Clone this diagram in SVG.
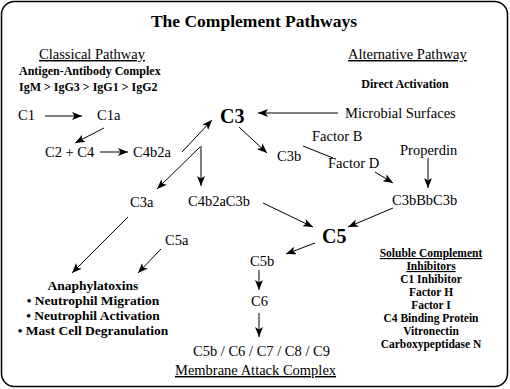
<svg xmlns="http://www.w3.org/2000/svg" width="510" height="389" viewBox="0 0 510 389">
<defs>
<marker id="ah" viewBox="0 0 10 8" refX="10" refY="4" markerWidth="10" markerHeight="8" markerUnits="userSpaceOnUse" orient="auto">
<path d="M0,0 L10,4 L0,8 L2.5,4 Z" fill="#000"/>
</marker>
</defs>
<style>
text{font-family:"Liberation Serif","Times New Roman",serif;fill:#000}
.t{font-size:17.5px;font-weight:bold}
.r{font-size:14.5px}
.b{font-size:12px;font-weight:bold}
.big{font-size:20px;font-weight:bold}
.an{font-size:13.5px;font-weight:bold}
.inh{font-size:11.5px;font-weight:bold}
.u{text-decoration:underline}
.m{text-anchor:middle}
#connectors line{stroke:#000;stroke-width:1;fill:none}
#connectors line.a{marker-end:url(#ah)}
</style>
<rect x="1.5" y="1.5" width="506" height="385" rx="13" ry="13" fill="#fff" stroke="#000" stroke-width="1.5"/>
<g id="title"><text class="t m" x="254" y="27">The Complement Pathways</text></g>
<g id="classical"><text class="r u m" x="92" y="59">Classical Pathway</text>
<text class="b" x="19" y="75">Antigen-Antibody Complex</text>
<text class="b" x="19" y="91">IgM &gt; IgG3 &gt; IgG1 &gt; IgG2</text></g>
<g id="alternative"><text class="r u" x="348" y="59">Alternative Pathway</text>
<text class="b m" x="405" y="88">Direct Activation</text></g>
<g id="c1"><text class="r" x="18" y="120">C1</text></g>
<g id="c1a"><text class="r" x="97" y="120">C1a</text></g>
<g id="c3"><text class="big" x="220" y="123">C3</text></g>
<g id="microbial"><text class="r" x="345" y="118">Microbial Surfaces</text></g>
<g id="c2c4"><text class="r" x="45" y="157">C2 + C4</text></g>
<g id="c4b2a"><text class="r" x="133" y="157">C4b2a</text></g>
<g id="c3b"><text class="r" x="277" y="161">C3b</text></g>
<g id="factorb"><text class="r" x="312" y="141">Factor B</text></g>
<g id="factord"><text class="r" x="328" y="168">Factor D</text></g>
<g id="properdin"><text class="r" x="400" y="155">Properdin</text></g>
<g id="c3bbbc3b"><text class="r" x="392" y="205">C3bBbC3b</text></g>
<g id="c3a"><text class="r" x="130" y="207">C3a</text></g>
<g id="c4b2ac3b"><text class="r" x="188" y="206">C4b2aC3b</text></g>
<g id="c5"><text class="big" x="322" y="243">C5</text></g>
<g id="c5a"><text class="r" x="165" y="245">C5a</text></g>
<g id="c5b"><text class="r" x="250" y="266">C5b</text></g>
<g id="c6"><text class="r" x="251" y="306">C6</text></g>
<g id="mac"><text class="r" x="193" y="356">C5b / C6 / C7 / C8 / C9</text>
<text class="r u" x="175" y="375">Membrane Attack Complex</text></g>
<g id="anaphylatoxins">
<text class="an m" x="93" y="290">Anaphylatoxins</text>
<text class="an m" x="93" y="305">• Neutrophil Migration</text>
<text class="an m" x="93" y="320">• Neutrophil Activation</text>
<text class="an m" x="93" y="335">• Mast Cell Degranulation</text>
</g>
<g id="inhibitors">
<text class="inh u m" x="431" y="257">Soluble Complement</text>
<text class="inh u m" x="431" y="270">Inhibitors</text>
<text class="inh m" x="431" y="283">C1 Inhibitor</text>
<text class="inh m" x="431" y="296">Factor H</text>
<text class="inh m" x="431" y="309">Factor I</text>
<text class="inh m" x="431" y="322">C4 Binding Protein</text>
<text class="inh m" x="431" y="335">Vitronectin</text>
<text class="inh m" x="431" y="348">Carboxypeptidase N</text>
</g>
<g id="connectors">
<line class="a" x1="45" y1="116" x2="82" y2="116"/>
<line class="a" x1="338" y1="113" x2="258" y2="113"/>
<line class="a" x1="104" y1="128" x2="75" y2="143"/>
<line class="a" x1="100" y1="152" x2="128" y2="152"/>
<line class="a" x1="182" y1="152" x2="212" y2="120"/>
<line class="a" x1="239" y1="127" x2="267" y2="153"/>
<line x1="303" y1="146" x2="333" y2="158"/>
<line class="a" x1="375" y1="172" x2="393" y2="183"/>
<line class="a" x1="428" y1="158" x2="428" y2="188"/>
<line class="a" x1="393" y1="208" x2="348" y2="227"/>
<line class="a" x1="263" y1="203" x2="313" y2="227"/>
<line class="a" x1="315" y1="243" x2="286" y2="254"/>
<line class="a" x1="259" y1="270" x2="259" y2="290"/>
<line class="a" x1="259" y1="313" x2="259" y2="337"/>
<line class="a" x1="201" y1="146" x2="201" y2="186"/>
<line class="a" x1="200" y1="147" x2="157" y2="189"/>
<line class="a" x1="128" y1="217" x2="72" y2="273"/>
<line class="a" x1="161" y1="249" x2="138" y2="273"/>
</g>
</svg>
